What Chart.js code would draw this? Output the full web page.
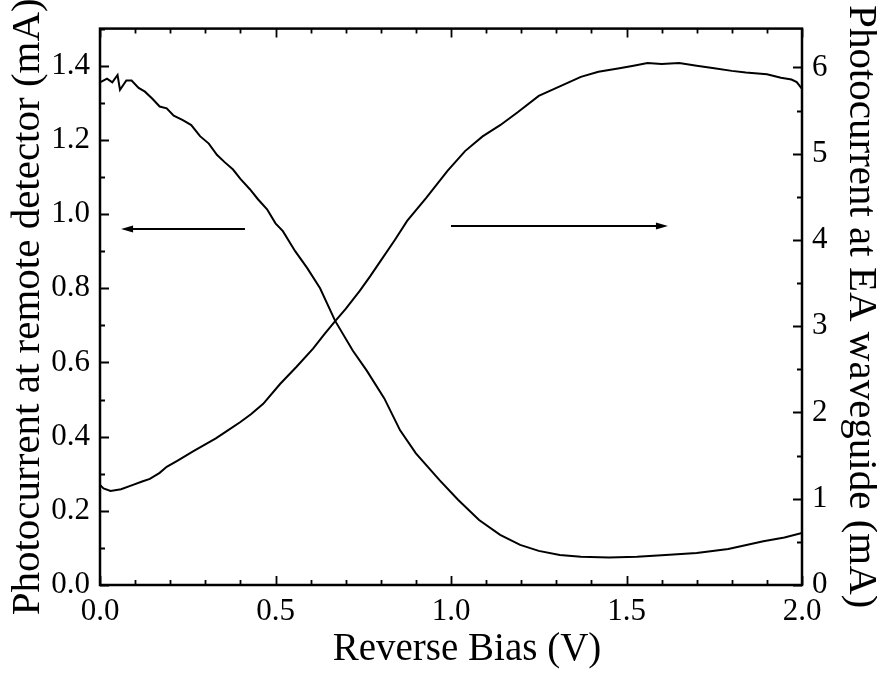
<!DOCTYPE html>
<html>
<head>
<meta charset="utf-8">
<script src="https://cdn.jsdelivr.net/npm/chart.js@4.4.1/dist/chart.umd.min.js"></script>
<style>
    html, body { margin: 0; padding: 0; background: #fff; }
    canvas { display: block; }
</style>
</head>
<body>
<canvas id="biasChart" width="877" height="673"></canvas>
<script>
// readings taken off the scanned figure
const remoteBias = [0.00, 0.02, 0.035, 0.05, 0.057, 0.075, 0.09, 0.11, 0.128, 0.15, 0.17, 0.19, 0.21, 0.236, 0.26,
    0.285, 0.31, 0.333, 0.355, 0.379, 0.40, 0.427, 0.45, 0.476, 0.50, 0.521, 0.556, 0.59, 0.627, 0.67, 0.72, 0.76,
    0.81, 0.855, 0.90, 0.968, 1.02, 1.08, 1.14, 1.197, 1.25, 1.31, 1.37, 1.45, 1.53, 1.60, 1.70, 1.79, 1.89, 1.95, 2.00];
const remoteCurrent = [1.355, 1.365, 1.355, 1.375, 1.335, 1.36, 1.36, 1.34, 1.33, 1.31, 1.29, 1.285, 1.265, 1.253, 1.24,
    1.21, 1.19, 1.16, 1.14, 1.12, 1.095, 1.067, 1.04, 1.013, 0.975, 0.954, 0.90, 0.855, 0.80, 0.712, 0.632, 0.578,
    0.503, 0.417, 0.355, 0.282, 0.23, 0.175, 0.135, 0.108, 0.092, 0.081, 0.076, 0.074, 0.076, 0.080, 0.086, 0.097, 0.118, 0.128, 0.14];

const eaBias = [0.00, 0.01, 0.03, 0.06, 0.094, 0.12, 0.142, 0.17, 0.19, 0.22, 0.265, 0.30, 0.33, 0.36, 0.40, 0.43,
    0.465, 0.513, 0.56, 0.607, 0.64, 0.67, 0.70, 0.74, 0.77, 0.80, 0.84, 0.875, 0.93, 0.99, 1.04, 1.09, 1.14, 1.19,
    1.25, 1.31, 1.37, 1.42, 1.48, 1.52, 1.56, 1.60, 1.65, 1.70, 1.75, 1.80, 1.84, 1.90, 1.94, 1.97, 1.985, 2.00];
const eaCurrent = [1.16, 1.12, 1.09, 1.11, 1.16, 1.20, 1.23, 1.30, 1.37, 1.44, 1.55, 1.63, 1.70, 1.78, 1.89, 1.98,
    2.10, 2.33, 2.53, 2.74, 2.91, 3.06, 3.20, 3.41, 3.58, 3.76, 4.00, 4.22, 4.49, 4.80, 5.03, 5.20, 5.33, 5.48,
    5.67, 5.78, 5.89, 5.95, 5.99, 6.02, 6.05, 6.04, 6.05, 6.02, 5.99, 5.96, 5.94, 5.92, 5.88, 5.86, 5.83, 5.75];

const xTicks = ['0.0', '0.5', '1.0', '1.5', '2.0'];
const leftTicks = ['0.0', '0.2', '0.4', '0.6', '0.8', '1.0', '1.2', '1.4'];
const rightTicks = ['0', '1', '2', '3', '4', '5', '6'];

// arrows: [x from, x to, left-axis value]
const arrows = [[0.413, 0.06, 0.96], [1.0, 1.618, 0.968]];

const serif = "'Liberation Serif', 'Times New Roman', serif";

function keepTicks(labels) {
    return function (scale) {
        scale.ticks = scale.ticks.filter(t => labels.some(l => Math.abs(parseFloat(l) - t.value) < 1e-6));
    };
}

const framePlugin = {
    id: 'frame',
    afterDatasetsDraw(chart) {
        const { ctx, chartArea: a, scales: { x, y, y2 } } = chart;
        ctx.save();
        ctx.strokeStyle = '#000';
        ctx.lineWidth = 1.8;
        ctx.beginPath();
        // x ticks, bottom and top, pointing in
        for (let i = 0; i <= 20; i++) {
            const px = Math.round(x.getPixelForValue(i / 10)) + 0.5;
            const len = i % 5 === 0 ? 9 : 5;
            ctx.moveTo(px, a.bottom); ctx.lineTo(px, a.bottom - len);
            ctx.moveTo(px, a.top); ctx.lineTo(px, a.top + len);
        }
        for (let i = 0; i <= 15; i++) {
            const py = Math.round(y.getPixelForValue(i / 10)) + 0.5;
            ctx.moveTo(a.left, py); ctx.lineTo(a.left + (i % 2 === 0 ? 9 : 5), py);
        }
        for (let i = 0; i <= 12; i++) {
            const py = Math.round(y2.getPixelForValue(i / 2)) + 0.5;
            ctx.moveTo(a.right, py); ctx.lineTo(a.right - (i % 2 === 0 ? 9 : 5), py);
        }
        ctx.stroke();

        ctx.lineWidth = 2.5;
        ctx.strokeRect(a.left, a.top, a.right - a.left, a.bottom - a.top);

        // the two arrows
        ctx.lineWidth = 2;
        ctx.fillStyle = '#000';
        arrows.forEach(([from, to, v]) => {
            const x0 = x.getPixelForValue(from);
            const x1 = x.getPixelForValue(to);
            const py = y.getPixelForValue(v);
            const dir = x1 > x0 ? 1 : -1;
            ctx.beginPath();
            ctx.moveTo(x0, py); ctx.lineTo(x1 - dir * 8, py);
            ctx.stroke();
            ctx.beginPath();
            ctx.moveTo(x1, py);
            ctx.lineTo(x1 - dir * 12, py - 3.5);
            ctx.lineTo(x1 - dir * 12, py + 3.5);
            ctx.closePath();
            ctx.fill();
        });

        // x axis title, sits a bit right of centre in the original
        ctx.font = '39px ' + serif;
        ctx.textAlign = 'center';
        ctx.textBaseline = 'middle';
        ctx.fillText('Reverse Bias (V)', (a.left + a.right) / 2 + 16, a.bottom + 65);
        ctx.restore();
    }
};

const ctx = document.getElementById('biasChart').getContext('2d');

const biasChart = new Chart(ctx, {
    type: 'line',
    data: {
        datasets: [{
            label: 'Photocurrent at remote detector',
            data: remoteBias.map((b, i) => ({ x: b, y: remoteCurrent[i] })),
            yAxisID: 'y',
            borderColor: '#000',
            borderWidth: 2,
            pointRadius: 0,
            tension: 0
        }, {
            label: 'Photocurrent at EA waveguide',
            data: eaBias.map((b, i) => ({ x: b, y: eaCurrent[i] })),
            yAxisID: 'y2',
            borderColor: '#000',
            borderWidth: 2,
            pointRadius: 0,
            tension: 0
        }]
    },
    options: {
        responsive: false,
        animation: false,
        layout: { padding: { top: 28 } },
        plugins: {
            legend: { display: false },
            tooltip: { enabled: false }
        },
        scales: {
            x: {
                type: 'linear',
                min: 0,
                max: 2,
                grid: { display: false, drawTicks: false },
                border: { display: false },
                ticks: {
                    stepSize: 0.5,
                    padding: 8,
                    color: '#000',
                    font: { family: serif, size: 31 },
                    callback: v => v.toFixed(1)
                },
                afterBuildTicks: keepTicks(xTicks),
                afterFit: s => { s.height = 88; }
            },
            y: {
                position: 'left',
                min: 0,
                max: 1.5,
                grid: { display: false, drawTicks: false },
                border: { display: false },
                ticks: {
                    stepSize: 0.2,
                    padding: 10,
                    color: '#000',
                    font: { family: serif, size: 31 },
                    callback: v => v.toFixed(1)
                },
                afterBuildTicks: keepTicks(leftTicks),
                title: {
                    display: true,
                    text: 'Photocurrent at remote detector (mA)',
                    color: '#000',
                    font: { family: serif, size: 41 },
                    padding: { top: 4 }
                },
                afterFit: s => { s.width = 100; }
            },
            y2: {
                position: 'right',
                min: 0,
                max: 6.45,
                grid: { display: false, drawTicks: false },
                border: { display: false },
                ticks: {
                    stepSize: 1,
                    padding: 10,
                    color: '#000',
                    font: { family: serif, size: 31 },
                    callback: v => v.toFixed(0)
                },
                afterBuildTicks: keepTicks(rightTicks),
                title: {
                    display: true,
                    text: 'Photocurrent at EA waveguide (mA)',
                    color: '#000',
                    font: { family: serif, size: 41, lineHeight: 1 },
                    padding: { top: -4 }
                },
                afterFit: s => { s.width = 75; }
            }
        }
    },
    plugins: [framePlugin]
});
</script>
</body>
</html>
